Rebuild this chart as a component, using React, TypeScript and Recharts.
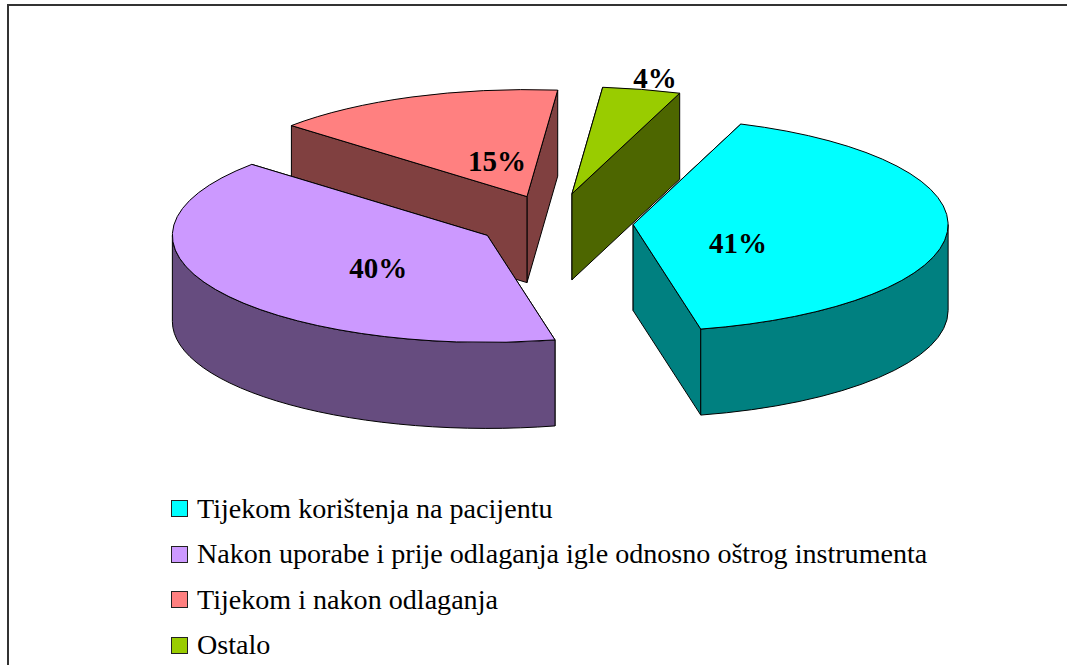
import React from "react";
import { PieChart, Pie, Legend } from "recharts";

// Drawn back-to-front so nearer slices overlap farther ones; legend order is the reverse.
const categories = ["Ostalo", "Tijekom i nakon odlaganja", "Nakon uporabe i prije odlaganja igle odnosno oštrog instrumenta", "Tijekom korištenja na pacijentu"];
const values = [4, 15, 40, 41];
const topColors = ["#99CC00", "#FF8080", "#CC99FF", "#00FFFF"];
const wallColors = ["#4D6600", "#804040", "#664C7F", "#008080"];
const explodeX = [0.2, 0.27, 0.26, 0.239];
const explodeY = [0.285, 0.27, 0.22, 0.15];
const labelDx = [83, -30, -109, 105];
const labelDy = [-116, -36, 33, 18];

const tableData = categories.map((name, i) => ({ name, value: values[i], fill: topColors[i] }));

const TILT = 107 / 315;
const DEPTH = 86;
const FONT = '"Liberation Serif", "Times New Roman", serif';
const rad = (a: number) => (a * Math.PI) / 180;

function apexOf(i: number, cx: number, cy: number, R: number, mid: number) {
  return {
    x: cx + explodeX[i] * R * Math.cos(rad(mid)),
    y: cy - explodeY[i] * R * TILT * Math.sin(rad(mid)),
  };
}

function SliceShape(props: any) {
  const { cx, cy, outerRadius: R, startAngle, endAngle, name } = props;
  const i = categories.indexOf(name);
  const a1 = Math.min(startAngle, endAngle);
  const a2 = Math.max(startAngle, endAngle);
  const ry = R * TILT;
  const c = apexOf(i, cx, cy, R, (a1 + a2) / 2);
  const P = (a: number) => ({ x: c.x + R * Math.cos(rad(a)), y: c.y - ry * Math.sin(rad(a)) });
  const s = P(a1);
  const e = P(a2);
  const large = a2 - a1 > 180 ? 1 : 0;
  const top = `M${c.x},${c.y} L${s.x},${s.y} A${R},${ry} 0 ${large} 0 ${e.x},${e.y} Z`;
  const wall = (a: number) => {
    const p = P(a);
    return `M${c.x},${c.y} L${p.x},${p.y} L${p.x},${p.y + DEPTH} L${c.x},${c.y + DEPTH} Z`;
  };
  // Farther cut wall first, so the nearer one covers it.
  const cuts = [a1, a2].sort((m, n) => P(m).y - P(n).y);
  const lo = Math.max(a1, 180);
  const hi = Math.min(a2, 360);
  let outer = "";
  if (hi > lo) {
    const p = P(lo);
    const q = P(hi);
    outer = `M${p.x},${p.y} A${R},${ry} 0 0 0 ${q.x},${q.y} L${q.x},${q.y + DEPTH} A${R},${ry} 0 0 1 ${p.x},${p.y + DEPTH} Z`;
  }
  const wallFill = wallColors[i];
  return (
    <g stroke="#000" strokeWidth={1} strokeLinejoin="round">
      <path d={wall(cuts[0])} fill={wallFill} />
      <path d={wall(cuts[1])} fill={wallFill} />
      {outer && <path d={outer} fill={wallFill} />}
      <path d={top} fill={topColors[i]} />
    </g>
  );
}

function renderLabel(props: any) {
  const { cx, cy, outerRadius: R, midAngle, name, value } = props;
  const i = categories.indexOf(name);
  const c = apexOf(i, cx, cy, R, midAngle);
  return (
    <text
      x={c.x + labelDx[i]}
      y={c.y + labelDy[i]}
      textAnchor="middle"
      dominantBaseline="central"
      fill="#000"
      stroke="none"
      style={{ fontFamily: FONT, fontWeight: 700, fontSize: 29 }}
    >
      {`${value}%`}
    </text>
  );
}

function LegendList(props: any) {
  const items = [...(props.payload ?? [])].reverse();
  return (
    <div style={{ fontFamily: FONT }}>
      {items.map((it: any) => (
        <div key={it.value} style={{ display: "flex", alignItems: "center", height: 45.5, whiteSpace: "nowrap" }}>
          <span
            style={{
              display: "inline-block",
              width: 15,
              height: 15,
              boxSizing: "content-box",
              border: "1.5px solid #222",
              background: it.color,
              marginRight: 9,
            }}
          />
          <span style={{ fontSize: 28.1, color: "#000" }}>{it.value}</span>
        </div>
      ))}
    </div>
  );
}

export default function App() {
  return (
    <div
      style={{
        position: "absolute",
        left: 0,
        top: 0,
        width: 1067,
        height: 665,
        overflow: "hidden",
        background: "#fff",
      }}
    >
      <div style={{ position: "absolute", left: 7, top: 4, right: -4, bottom: -4, borderLeft: "2px solid #333", borderTop: "2px solid #333" }} />
      <div style={{ position: "absolute", left: 0, top: 0 }}>
        <PieChart width={1067} height={665}>
          <Pie
            data={tableData}
            dataKey="value"
            nameKey="name"
            cx={553}
            cy={218.5}
            outerRadius={315}
            startAngle={70}
            endAngle={430}
            stroke="#000"
            isAnimationActive={false}
            shape={SliceShape}
            label={renderLabel}
            labelLine={false}
          />
          <Legend
            layout="vertical"
            content={LegendList}
            itemSorter={null}
            wrapperStyle={{ position: "absolute", left: 171, top: 486, width: 880, bottom: "auto" }}
          />
        </PieChart>
      </div>
    </div>
  );
}
